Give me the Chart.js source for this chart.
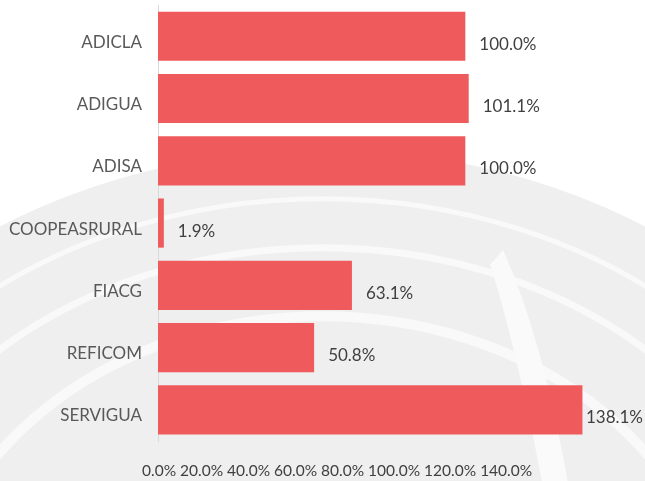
<!DOCTYPE html>
<html>
<head>
<meta charset="utf-8">
<script src="https://cdn.jsdelivr.net/npm/chart.js@4/dist/chart.umd.min.js"></script>
<style>
  html, body { margin: 0; padding: 0; background: #fff; overflow: hidden; }
  canvas { display: block; }
</style>
</head>
<body>
<canvas id="bar-chart" width="645" height="481"></canvas>
<script>
let categories = ['ADICLA', 'ADIGUA', 'ADISA', 'COOPEASRURAL', 'FIACG', 'REFICOM', 'SERVIGUA'];
let values = [100.0, 101.1, 100.0, 1.9, 63.1, 50.8, 138.1];
let tickLabels = ['0.0%', '20.0%', '40.0%', '60.0%', '80.0%', '100.0%', '120.0%', '140.0%'];

const fontFamily = 'Lato, "Noto Sans", sans-serif';

// faint grey swirl behind the chart (slide background)
const backdrop = {
    id: 'backdrop',
    beforeDraw(chart) {
        const ctx = chart.ctx;
        const w = chart.width, h = chart.height;
        ctx.save();
        ctx.fillStyle = '#ffffff';
        ctx.fillRect(0, 0, w, h);
        const cx = w * 0.5, cy = h * 1.33;
        ctx.fillStyle = '#efefef';
        ctx.beginPath();
        ctx.ellipse(cx, cy, 600, 490, 0, 0, Math.PI * 2);
        ctx.fill();
        ctx.strokeStyle = '#f9f9f9';
        [[0.9, 5], [0.8, 7], [0.66, 10]].forEach(([f, lw]) => {
            ctx.lineWidth = lw;
            ctx.beginPath();
            ctx.ellipse(cx, cy, 600 * f, 490 * f, 0, 0, Math.PI * 2);
            ctx.stroke();
        });
        // lighter diagonal band on the right
        ctx.fillStyle = '#fafafa';
        ctx.beginPath();
        ctx.moveTo(w * 0.78, h * 0.52);
        ctx.quadraticCurveTo(w * 0.84, h * 0.7, w * 0.88, h);
        ctx.lineTo(w * 0.84, h);
        ctx.quadraticCurveTo(w * 0.8, h * 0.72, w * 0.76, h * 0.55);
        ctx.closePath();
        ctx.fill();
        ctx.restore();
    }
};

// value labels to the right of each bar
const valueLabels = {
    id: 'valueLabels',
    afterDatasetsDraw(chart) {
        const ctx = chart.ctx;
        const meta = chart.getDatasetMeta(0);
        ctx.save();
        ctx.font = '17px ' + fontFamily;
        ctx.fillStyle = '#404040';
        ctx.textBaseline = 'middle';
        meta.data.forEach((bar, i) => {
            const txt = values[i].toFixed(1) + '%';
            const w = ctx.measureText(txt).width;
            let x = bar.x + 14;
            if (x + w > chart.width - 2) x = chart.width - 2 - w;
            ctx.fillText(txt, x, bar.y + 8);
        });
        ctx.restore();
    }
};

let chart = new Chart(document.getElementById('bar-chart'), {
    type: 'bar',
    data: {
        labels: categories,
        datasets: [{
            data: values,
            backgroundColor: '#EF5A5C',
            categoryPercentage: 1,
            barPercentage: 0.79
        }]
    },
    options: {
        indexAxis: 'y',
        responsive: false,
        animation: false,
        layout: { padding: { top: 5, right: 26, bottom: 0, left: 0 } },
        plugins: {
            legend: { display: false },
            tooltip: { enabled: false }
        },
        scales: {
            x: {
                min: 0,
                max: 150,
                grid: { display: false, drawTicks: false },
                border: { display: false },
                // the source prints all tick labels as one packed line
                afterBuildTicks(scale) {
                    scale.ticks = [{ value: 0 }];
                },
                afterFit(scale) { scale.height = 40; },
                ticks: {
                    autoSkip: false,
                    maxRotation: 0,
                    align: 'start',
                    labelOffset: -16,
                    padding: 21,
                    color: '#404040',
                    font: { family: fontFamily, size: 15.5 },
                    callback: () => tickLabels.join(' ')
                }
            },
            y: {
                grid: { display: false, drawTicks: true, tickLength: 16 },
                border: { display: true, color: '#d9d9d9', width: 1 },
                afterFit(scale) { scale.width = 158; },
                ticks: {
                    padding: 0,
                    labelOffset: 6,
                    color: '#595959',
                    font: { family: fontFamily, size: 17, lineHeight: 0.6 }
                }
            }
        }
    },
    plugins: [backdrop, valueLabels]
});
</script>
</body>
</html>
